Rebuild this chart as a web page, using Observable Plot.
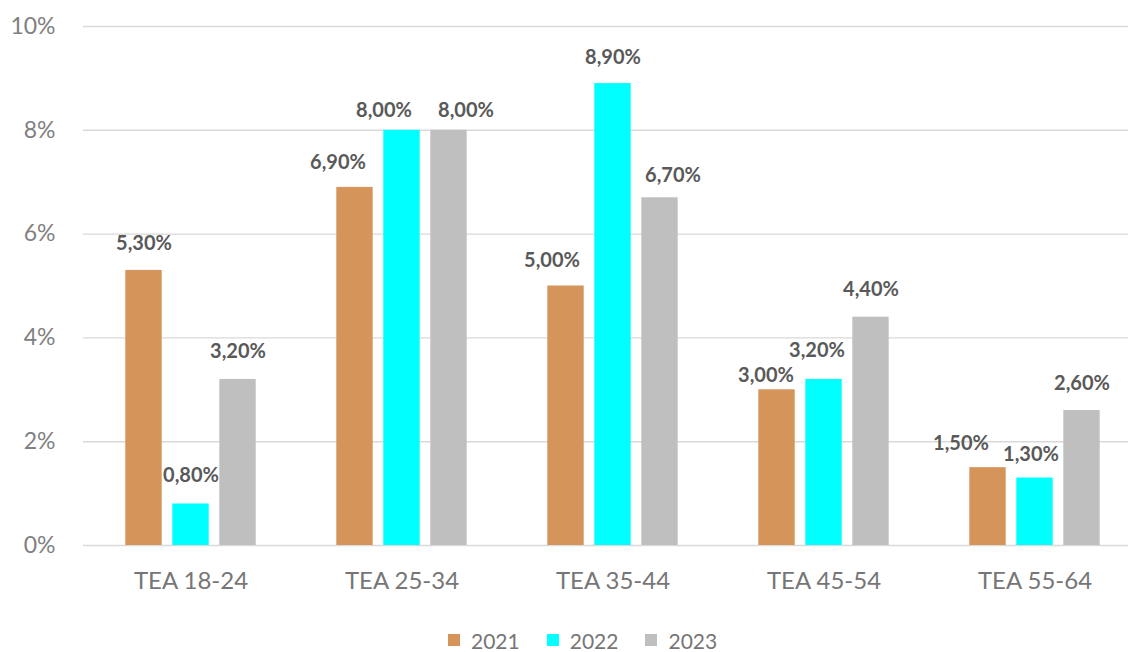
<!DOCTYPE html>
<html>
<head>
<meta charset="utf-8">
<script src="https://cdn.jsdelivr.net/npm/d3@7"></script>
<script src="https://cdn.jsdelivr.net/npm/@observablehq/plot@0.6"></script>
<style>
  html, body { margin: 0; padding: 0; background: #fff; }
  #wrap { position: relative; width: 1128px; height: 652px; overflow: hidden; font-family: Lato, "Open Sans", sans-serif; }
  #legend { position: absolute; left: 448px; top: 628px; height: 24px; display: flex; align-items: center; font-size: 21px; color: #767676; }
  #legend .item { display: flex; align-items: center; margin-right: 27px; }
  #legend .sw { width: 12px; height: 12px; margin-right: 11px; }
</style>
</head>
<body>
<div id="wrap"><div id="chart"></div><div id="legend"></div></div>
<script>
// ---- data ----
const categories = ["TEA 18-24", "TEA 25-34", "TEA 35-44", "TEA 45-54", "TEA 55-64"];
const years = ["2021", "2022", "2023"];
const values2021 = [5.3, 6.9, 5.0, 3.0, 1.5];
const values2022 = [0.8, 8.0, 8.9, 3.2, 1.3];
const values2023 = [3.2, 8.0, 6.7, 4.4, 2.6];
const yTicks = [0, 2, 4, 6, 8, 10];

// ---- style ----
const colors = ["#D5945A", "#00FFFF", "#BFBFBF"];
const barWidth = 37, barStep = 47;
// label nudges (Excel-style overlap avoidance), [dx, dy] per year within each category
const labelNudge = {
  "2021": [[0,0],[-17,2],[-14,1],[-11,12],[-27,2]],
  "2022": [[0,-2],[-18,7],[0,0],[-7,-2],[-4,3]],
  "2023": [[0,-1],[17,7],[13,4],[0,-1],[0,-1]]
};

const series = [values2021, values2022, values2023];
const rows = [];
years.forEach((yr, j) => categories.forEach((c, i) => rows.push({category: c, year: yr, value: series[j][i], ci: i, yi: j})));

const xLeft = 83, xRight = 1141;
const band = (xRight - xLeft) / categories.length;
const inset = (band - barWidth) / 2;
const fmt = v => v.toFixed(2).replace(".", ",") + "%";

const marks = [
  Plot.ruleY(yTicks, {stroke: "#d9d9d9", strokeWidth: 1.4}),
  ...years.map((yr, j) => Plot.barY(rows.filter(d => d.year === yr), {
    x: "category", y: "value", fill: colors[j],
    insetLeft: inset, insetRight: inset, dx: (j - 1) * barStep
  })),
  ...rows.map(d => Plot.text([d], {
    x: "category", y: "value", text: r => fmt(r.value),
    dx: (d.yi - 1) * barStep + labelNudge[d.year][d.ci][0],
    dy: -20 + labelNudge[d.year][d.ci][1],
    lineAnchor: "bottom", fontSize: 20, fontWeight: "bold", fill: "#595959"
  })),
  Plot.axisX({tickSize: 0, tickPadding: 26, fontSize: 24, color: "#767676"}),
  Plot.axisY({ticks: yTicks, tickSize: 0, tickPadding: 28, fontSize: 23, color: "#808080", tickFormat: d => d + "%"})
];

const chart = Plot.plot({
  width: 1128,
  height: 605,
  marginLeft: 83,
  marginRight: 0,
  marginTop: 26,
  marginBottom: 60,
  style: {fontFamily: "Lato, 'Open Sans', sans-serif", background: "#fff", overflow: "visible"},
  x: {domain: categories, range: [xLeft, xRight], padding: 0, label: null},
  y: {domain: [0, 10], label: null},
  marks
});
document.getElementById("chart").appendChild(chart);

const legend = document.getElementById("legend");
years.forEach((yr, j) => {
  const it = document.createElement("div");
  it.className = "item";
  it.innerHTML = `<span class="sw" style="background:${colors[j]}"></span><span>${yr}</span>`;
  legend.appendChild(it);
});
</script>
</body>
</html>
